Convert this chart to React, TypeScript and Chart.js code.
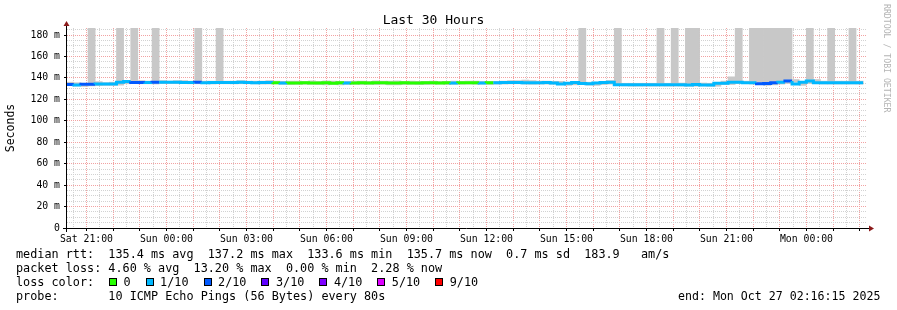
import React, { useEffect, useRef } from 'react';
import { Chart, registerables } from 'chart.js';

Chart.register(...registerables);

const MONO = '"DejaVu Sans Mono", "Liberation Mono", monospace';

const chartTitle = 'Last 30 Hours';
const yAxisTitle = 'Seconds';
const watermark = 'RRDTOOL / TOBI OETIKER';

// time axis: hours counted from Sat 00:00
const startHour = 20 + 16.25 / 60; // Sat 20:16:15
const spanHours = 30;
const bin0Hour = 20.26;
const binHours = 16 / 60;

const yTickValues = [0, 20, 40, 60, 80, 100, 120, 140, 160, 180];
const yTickLabels = ['0', '20 m', '40 m', '60 m', '80 m', '100 m', '120 m', '140 m', '160 m', '180 m'];
const yMax = 186.53;

const xTickHours = [21, 24, 27, 30, 33, 36, 39, 42, 45, 48];
const xTickLabels = ['Sat 21:00', 'Sun 00:00', 'Sun 03:00', 'Sun 06:00', 'Sun 09:00', 'Sun 12:00', 'Sun 15:00', 'Sun 18:00', 'Sun 21:00', 'Mon 00:00'];

// median rtt per 16-minute bin (ms)
const medianRtt = [
  134.3, 133.8, 133.3, 134.0, 134.0, 134.2, 134.2, 134.4, 136.0, 136.6,
  135.8, 135.8, 135.6, 136.0, 136.0, 135.9, 135.9, 135.8, 135.7, 135.9,
  135.5, 135.8, 135.8, 135.6, 135.8, 135.9, 135.7, 135.5, 135.6, 135.8,
  135.4, 135.2, 135.3, 135.3, 135.4, 135.2, 135.3, 135.4, 135.1, 135.4,
  135.3, 135.2, 135.4, 135.3, 135.4, 135.5, 135.3, 135.2, 135.4, 135.3,
  135.2, 135.4, 135.5, 135.3, 135.4, 135.3, 135.5, 135.4, 135.5, 135.3,
  135.5, 135.5, 135.7, 135.8, 135.6, 135.4, 135.5, 135.5, 135.6, 135.3,
  134.3, 135.0, 135.6, 134.7, 134.5, 135.2, 135.6, 136.0, 133.5, 133.5,
  133.5, 133.6, 133.5, 133.6, 133.5, 133.6, 133.5, 133.5, 133.4, 133.8,
  133.4, 133.4, 135.0, 135.0, 136.0, 136.0, 135.5, 135.5, 134.5, 134.8,
  135.5, 136.0, 137.2, 134.4, 136.0, 137.0, 135.5, 135.5, 135.5, 135.5,
  135.5, 135.5,
];

// loss level per bin (index into lossLabels / lossColors)
const lossLevel = [
  2, 1, 2, 2, 1, 1, 1, 1, 1, 2,
  2, 1, 2, 1, 1, 1, 1, 1, 2, 1,
  1, 1, 1, 1, 1, 1, 1, 1, 1, 0,
  1, 0, 0, 0, 0, 0, 0, 0, 0, 1,
  0, 0, 0, 0, 0, 0, 0, 0, 0, 0,
  0, 0, 0, 0, 1, 0, 0, 0, 1, 0,
  1, 1, 1, 1, 1, 1, 1, 1, 1, 1,
  1, 1, 1, 1, 1, 1, 1, 1, 1, 1,
  1, 1, 1, 1, 1, 1, 1, 1, 1, 1,
  1, 1, 1, 1, 1, 1, 1, 2, 2, 2,
  1, 2, 1, 1, 1, 1, 1, 1, 1, 1,
  1, 1,
];

// smoke (min / max of the pings) per bin (ms)
const smokeLow = [
  132.8, 132.5, 132.0, 132.5, 132.8, 133.0, 133.0, 133.2, 134.5, 135.0,
  134.5, 134.5, 134.3, 134.8, 134.8, 134.7, 134.6, 134.5, 134.5, 134.6,
  134.3, 134.5, 134.5, 134.4, 134.5, 134.5, 134.4, 134.2, 134.3, 134.4,
  134.0, 133.8, 134.0, 134.0, 134.0, 133.8, 133.5, 134.0, 133.5, 134.0,
  134.0, 133.8, 134.0, 133.8, 134.0, 133.5, 133.5, 133.8, 134.0, 133.8,
  133.8, 134.0, 134.2, 133.8, 134.0, 134.0, 134.2, 134.0, 134.2, 133.8,
  134.2, 134.2, 134.4, 134.5, 134.2, 134.0, 134.2, 134.2, 134.2, 134.0,
  133.0, 133.5, 134.2, 133.2, 133.0, 133.8, 134.2, 134.6, 132.5, 132.3,
  132.3, 132.4, 132.3, 132.4, 132.3, 132.4, 132.3, 132.3, 132.2, 132.6,
  132.2, 132.2, 133.8, 133.8, 134.8, 134.8, 134.3, 134.0, 133.0, 133.5,
  134.2, 134.8, 136.0, 133.0, 134.8, 135.8, 134.3, 134.3, 134.3, 134.3,
  134.3, 134.3,
];
const smokeHigh = [
  136.0, 135.5, 135.0, 187, 136.5, 135.5, 136.0, 187, 137.5, 187,
  137.5, 137.0, 187, 137.5, 137.0, 137.5, 137.5, 137.0, 187, 137.0,
  137.0, 187, 137.0, 137.0, 137.5, 137.0, 137.0, 137.0, 137.5, 137.0,
  136.8, 137.0, 137.0, 136.8, 137.2, 136.8, 137.2, 137.0, 136.8, 136.8,
  137.0, 137.0, 136.8, 137.2, 137.0, 137.0, 137.2, 136.8, 137.0, 136.8,
  136.8, 137.0, 136.8, 136.8, 137.0, 136.8, 137.0, 137.0, 136.8, 136.8,
  136.8, 137.0, 137.5, 137.5, 138.0, 137.5, 137.0, 137.0, 136.8, 136.8,
  135.5, 136.5, 187, 136.0, 136.0, 136.5, 137.5, 187, 135.0, 135.0,
  135.0, 135.0, 135.0, 187, 135.0, 187, 135.2, 187, 187, 135.2,
  135.0, 135.0, 137.0, 141.0, 187, 137.0, 187, 187, 187, 187,
  187, 187, 138.5, 136.0, 187, 138.5, 137.0, 187, 137.0, 137.0,
  187, 137.0,
];

const lossLabels = ['0', '1/10', '2/10', '3/10', '4/10', '5/10', '9/10'];
const lossColors = ['#26ff00', '#00b8ff', '#0059ff', '#5e00ff', '#7e00ff', '#dd00ff', '#ff0000'];

const rttStats = ['135.4 ms avg', '137.2 ms max', '133.6 ms min', '135.7 ms now', '0.7 ms sd', '183.9   am/s'];
const lossStats = ['4.60 % avg', '13.20 % max', '0.00 % min', '2.28 % now'];
const probeText = '10 ICMP Echo Pings (56 Bytes) every 80s';
const endText = 'end: Mon Oct 27 02:16:15 2025';

const MAJOR = '#f2a2a2';
const MINOR = '#d2d2d2';
const CLEAR = 'rgba(0,0,0,0)';

const decorPlugin = {
  id: 'decor',
  afterDatasetsDraw(chart: any) {
    const { ctx, chartArea: a } = chart;
    ctx.save();
    ctx.setLineDash([]);
    ctx.strokeStyle = '#000';
    ctx.lineWidth = 1;
    ctx.beginPath();
    ctx.moveTo(a.left - 0.5, a.bottom + 4);
    ctx.lineTo(a.left - 0.5, a.top - 5);
    ctx.moveTo(a.left - 4, a.bottom + 0.5);
    ctx.lineTo(a.right + 3, a.bottom + 0.5);
    ctx.stroke();
    ctx.fillStyle = '#8b1a1a';
    ctx.beginPath();
    ctx.moveTo(a.left - 3.5, a.top - 2);
    ctx.lineTo(a.left + 2.5, a.top - 2);
    ctx.lineTo(a.left - 0.5, a.top - 7);
    ctx.closePath();
    ctx.fill();
    ctx.beginPath();
    ctx.moveTo(a.right + 2, a.bottom - 2.5);
    ctx.lineTo(a.right + 2, a.bottom + 3.5);
    ctx.lineTo(a.right + 7, a.bottom + 0.5);
    ctx.closePath();
    ctx.fill();
    ctx.fillStyle = '#b4b4b4';
    ctx.font = `8.2px ${MONO}`;
    ctx.textBaseline = 'middle';
    ctx.textAlign = 'left';
    ctx.translate(886, 4);
    ctx.rotate(Math.PI / 2);
    ctx.fillText(watermark, 0, 0);
    ctx.restore();
  },
};

function isWhole(v: number) {
  return Math.abs(v - Math.round(v)) < 1e-6;
}

export default function App() {
  const ref = useRef<HTMLCanvasElement | null>(null);

  useEffect(() => {
    const canvas = ref.current;
    if (!canvas) return;
    const linePts = medianRtt.map((v, k) => ({ x: bin0Hour + k * binHours, y: v }));
    linePts.push({ x: bin0Hour + medianRtt.length * binHours, y: medianRtt[medianRtt.length - 1] });
    const smokePts = smokeLow.map((lo, k) => ({ x: bin0Hour + (k + 0.5) * binHours, y: [lo, smokeHigh[k]] }));

    const chart = new Chart(canvas, {
      type: 'bar',
      data: {
        datasets: [
          {
            type: 'line',
            order: 0,
            data: linePts,
            stepped: 'after',
            borderWidth: 3,
            pointRadius: 0,
            borderColor: lossColors[1],
            borderCapStyle: 'butt',
            borderJoinStyle: 'miter',
            fill: false,
            segment: {
              borderColor: (c: any) => lossColors[lossLevel[c.p0DataIndex]] || lossColors[1],
            },
          } as any,
          {
            type: 'bar',
            order: 1,
            data: smokePts,
            backgroundColor: '#c8c8c8',
            borderWidth: 0,
            barPercentage: 1,
            categoryPercentage: 1,
            grouped: false,
          } as any,
        ],
      },
      options: {
        animation: false,
        responsive: false,
        events: [],
        layout: { padding: { left: 0, right: 30, top: 0, bottom: 0 } },
        plugins: {
          legend: { display: false },
          tooltip: { enabled: false },
          title: {
            display: true,
            text: chartTitle,
            color: '#000',
            font: { family: MONO, size: 13, weight: 'normal' },
            padding: { top: 12.4, bottom: 0 },
          },
        },
        scales: {
          x: {
            type: 'linear',
            min: startHour,
            max: startHour + spanHours,
            offset: false,
            afterBuildTicks: (s: any) => {
              const t: any[] = [];
              for (let h = Math.ceil(startHour * 2) / 2; h <= startHour + spanHours; h += 0.5) t.push({ value: h });
              s.ticks = t;
            },
            afterFit: (s: any) => {
              s.height = 82;
            },
            grid: {
              offset: false,
              lineWidth: 1,
              color: (c: any) => (c.tick && isWhole(c.tick.value) ? MAJOR : MINOR),
              drawTicks: true,
              tickLength: 3,
              tickColor: (c: any) => (c.tick && isWhole(c.tick.value) ? '#000' : CLEAR),
            },
            border: { display: false, dash: [1, 1] },
            ticks: {
              autoSkip: false,
              maxRotation: 0,
              minRotation: 0,
              padding: 3,
              color: '#000',
              font: { family: MONO, size: 9.8 },
              callback: (v: any) => {
                const i = xTickHours.findIndex((h) => Math.abs(h - Number(v)) < 1e-6);
                return i >= 0 ? xTickLabels[i] : '';
              },
            },
          },
          y: {
            type: 'linear',
            min: 0,
            max: yMax,
            afterBuildTicks: (s: any) => {
              const t: any[] = [];
              for (let v = 0; v <= yMax; v += 5) t.push({ value: v });
              s.ticks = t;
            },
            afterFit: (s: any) => {
              s.width = 67;
            },
            grid: {
              lineWidth: 1,
              color: (c: any) => {
                if (!c.tick) return MINOR;
                if (c.tick.value === 0) return CLEAR;
                return c.tick.value % 20 === 0 ? MAJOR : MINOR;
              },
              drawTicks: true,
              tickLength: 3,
              tickColor: (c: any) => (c.tick && c.tick.value % 20 === 0 ? '#000' : CLEAR),
            },
            border: { display: false, dash: [1, 1] },
            ticks: {
              autoSkip: false,
              padding: 4,
              color: '#000',
              font: { family: MONO, size: 9.8 },
              callback: (v: any) => {
                const i = yTickValues.indexOf(Number(v));
                return i >= 0 ? yTickLabels[i] : '';
              },
            },
            title: {
              display: true,
              text: yAxisTitle,
              color: '#000',
              font: { family: MONO, size: 11.5 },
              padding: { top: 4, bottom: 0 },
            },
          },
        },
      } as any,
      plugins: [decorPlugin],
    });
    return () => chart.destroy();
  }, []);

  const textStyle: React.CSSProperties = {
    fontFamily: MONO,
    fontSize: '11.8px',
    lineHeight: '14px',
    whiteSpace: 'pre',
    color: '#000',
  };

  return (
    <div style={{ position: 'absolute', left: 0, top: 0, width: 897, height: 310, background: '#fff', overflow: 'hidden' }}>
      <canvas ref={ref} width={897} height={310} style={{ display: 'block', width: 897, height: 310 }} />
      <div style={{ ...textStyle, position: 'absolute', left: 16, top: 247 }}>
        <div>{'median rtt:  ' + rttStats.join('  ')}</div>
        <div>{'packet loss: ' + lossStats.join('  ')}</div>
        <div style={{ position: 'relative', height: 14 }}>
          <span>loss color:</span>
          <div style={{ position: 'absolute', left: 93, top: 0, height: 14, display: 'flex', alignItems: 'center' }}>
            {lossLabels.map((lab, i) => (
              <div key={lab} style={{ display: 'flex', alignItems: 'center', marginRight: 15 }}>
                <span style={{ display: 'inline-block', boxSizing: 'border-box', width: 8, height: 8, background: lossColors[i], border: '1px solid #000', marginRight: 6.5 }} />
                <span>{lab}</span>
              </div>
            ))}
          </div>
        </div>
        <div>{'probe:       ' + probeText}</div>
      </div>
      <div style={{ ...textStyle, fontSize: '11.6px', position: 'absolute', left: 678, top: 289 }}>{endText}</div>
    </div>
  );
}
